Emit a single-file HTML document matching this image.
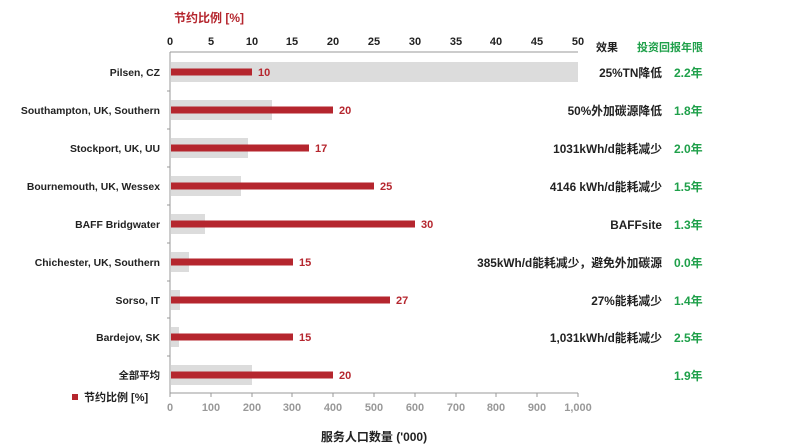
<!DOCTYPE html><html><head><meta charset="utf-8"><style>body{margin:0;background:#fff}svg{display:block}text{font-family:"Liberation Sans","Noto Sans CJK SC",sans-serif;font-weight:bold}</style></head><body>
<svg width="796" height="448" xmlns="http://www.w3.org/2000/svg">
<text x="174" y="22" font-size="12" fill="#b5262e">节约比例 [%]</text>
<g font-size="11" fill="#222" text-anchor="middle">
<text x="170" y="45">0</text><text x="211" y="45">5</text><text x="252" y="45">10</text><text x="292" y="45">15</text><text x="333" y="45">20</text><text x="374" y="45">25</text><text x="415" y="45">30</text><text x="456" y="45">35</text><text x="496" y="45">40</text><text x="537" y="45">45</text><text x="578" y="45">50</text></g>
<line x1="170" y1="52" x2="578" y2="52" stroke="#999"/>
<line x1="170" y1="52" x2="170" y2="393" stroke="#999"/>
<line x1="170" y1="393" x2="578" y2="393" stroke="#999"/>
<g stroke="#999">
<line x1="170" y1="393" x2="170" y2="397"/><line x1="211" y1="393" x2="211" y2="397"/><line x1="252" y1="393" x2="252" y2="397"/><line x1="292" y1="393" x2="292" y2="397"/><line x1="333" y1="393" x2="333" y2="397"/><line x1="374" y1="393" x2="374" y2="397"/><line x1="415" y1="393" x2="415" y2="397"/><line x1="456" y1="393" x2="456" y2="397"/><line x1="496" y1="393" x2="496" y2="397"/><line x1="537" y1="393" x2="537" y2="397"/><line x1="578" y1="393" x2="578" y2="397"/>
<line x1="167" y1="91" x2="170" y2="91"/><line x1="167" y1="129" x2="170" y2="129"/><line x1="167" y1="167" x2="170" y2="167"/><line x1="167" y1="205" x2="170" y2="205"/><line x1="167" y1="243" x2="170" y2="243"/><line x1="167" y1="281" x2="170" y2="281"/><line x1="167" y1="318" x2="170" y2="318"/><line x1="167" y1="356" x2="170" y2="356"/>
</g>
<g font-size="11" fill="#999" font-weight="normal" text-anchor="middle">
<text x="170" y="411">0</text><text x="211" y="411">100</text><text x="252" y="411">200</text><text x="292" y="411">300</text><text x="333" y="411">400</text><text x="374" y="411">500</text><text x="415" y="411">600</text><text x="456" y="411">700</text><text x="496" y="411">800</text><text x="537" y="411">900</text><text x="578" y="411">1,000</text></g>
<text x="374" y="441" font-size="12" fill="#222" text-anchor="middle">服务人口数量 ('000)</text>
<g fill="#dcdcdc">
<rect x="171" y="62" width="407" height="20"/><rect x="171" y="100" width="101" height="20"/><rect x="171" y="138" width="77" height="20"/><rect x="171" y="176" width="70" height="20"/><rect x="171" y="214" width="34" height="20"/><rect x="171" y="252" width="18" height="20"/><rect x="171" y="290" width="9" height="20"/><rect x="171" y="327" width="8" height="20"/><rect x="171" y="365" width="81" height="20"/></g>
<g fill="#b5262e">
<rect x="171" y="68.5" width="81" height="7"/><rect x="171" y="106.5" width="162" height="7"/><rect x="171" y="144.5" width="138" height="7"/><rect x="171" y="182.5" width="203" height="7"/><rect x="171" y="220.5" width="244" height="7"/><rect x="171" y="258.5" width="122" height="7"/><rect x="171" y="296.5" width="219" height="7"/><rect x="171" y="333.5" width="122" height="7"/><rect x="171" y="371.5" width="162" height="7"/>
<rect x="72" y="394" width="6" height="6"/></g>
<g font-size="11" fill="#b5262e">
<text x="258" y="76">10</text><text x="339" y="114">20</text><text x="315" y="152">17</text><text x="380" y="190">25</text><text x="421" y="228">30</text><text x="299" y="266">15</text><text x="396" y="304">27</text><text x="299" y="341">15</text><text x="339" y="379">20</text></g>
<g font-size="10.4" fill="#222" text-anchor="end">
<text x="160" y="76">Pilsen, CZ</text><text x="160" y="114">Southampton, UK, Southern</text><text x="160" y="152">Stockport, UK, UU</text><text x="160" y="190">Bournemouth, UK, Wessex</text><text x="160" y="228">BAFF Bridgwater</text><text x="160" y="266">Chichester, UK, Southern</text><text x="160" y="304">Sorso, IT</text><text x="160" y="341">Bardejov, SK</text><text x="160" y="379">全部平均</text></g>
<text x="84" y="401" font-size="11" fill="#222">节约比例 [%]</text>
<text x="596" y="51" font-size="11" fill="#222">效果</text>
<text x="637" y="51" font-size="11" fill="#1fa04a">投资回报年限</text>
<g font-size="11.8" fill="#222" text-anchor="end">
<text x="662" y="77">25%TN降低</text><text x="662" y="115">50%外加碳源降低</text><text x="662" y="153">1031kWh/d能耗减少</text><text x="662" y="191">4146 kWh/d能耗减少</text><text x="662" y="229">BAFFsite</text><text x="662" y="267">385kWh/d能耗减少，避免外加碳源</text><text x="662" y="305">27%能耗减少</text><text x="662" y="342">1,031kWh/d能耗减少</text></g>
<g font-size="12" fill="#1fa04a">
<text x="674" y="77">2.2年</text><text x="674" y="115">1.8年</text><text x="674" y="153">2.0年</text><text x="674" y="191">1.5年</text><text x="674" y="229">1.3年</text><text x="674" y="267">0.0年</text><text x="674" y="305">1.4年</text><text x="674" y="342">2.5年</text><text x="674" y="380">1.9年</text></g>
</svg></body></html>
